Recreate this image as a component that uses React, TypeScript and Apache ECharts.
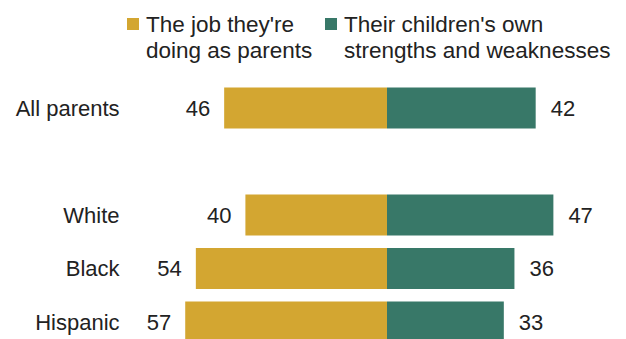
import React, { useEffect, useRef } from "react";
import * as echarts from "echarts";

const categories = ["All parents", "", "White", "Black", "Hispanic"];
const jobAsParents = [46, null, 40, 54, 57];
const childStrengths = [42, null, 47, 36, 33];
const legendLines = [
  ["The job they're", "doing as parents"],
  ["Their children's own", "strengths and weaknesses"],
];
const colors = ["#D3A631", "#387868"];

const FONT = "'Liberation Sans', Arial, sans-serif";

export default function App() {
  const ref = useRef<HTMLDivElement>(null);
  useEffect(() => {
    if (!ref.current) return;
    const chart = echarts.init(ref.current, null, { renderer: "svg" });
    const legendX = [127, 325];
    const textX = [146, 344];
    const graphic: any[] = [];
    legendLines.forEach((lines, i) => {
      graphic.push({
        type: "rect",
        shape: { x: legendX[i], y: 18, width: 12, height: 12 },
        style: { fill: colors[i] },
      });
      lines.forEach((line, j) => {
        graphic.push({
          type: "text",
          x: textX[i],
          y: 24 + j * 26.5,
          style: {
            text: line,
            font: `22.5px ${FONT}`,
            fill: "#222",
            textAlign: "left",
            textVerticalAlign: "middle",
          },
        });
      });
    });
    chart.setOption({
      animation: false,
      grid: {
        left: 174.6,
        right: 26.6,
        top: 81.25,
        height: 267.5,
        containLabel: false,
        outerBoundsMode: "none",
      },
      xAxis: {
        type: "value",
        min: -60,
        max: 60,
        show: false,
      },
      yAxis: {
        type: "category",
        data: categories,
        inverse: true,
        axisLine: { show: false },
        axisTick: { show: false },
        splitLine: { show: false },
        axisLabel: {
          margin: 55,
          fontSize: 22,
          fontFamily: FONT,
          color: "#222",
          align: "right",
        },
      },
      graphic,
      series: [
        {
          name: legendLines[0].join(" "),
          type: "bar",
          stack: "total",
          barWidth: 41,
          data: jobAsParents.map((v) => (v == null ? "-" : -v)),
          itemStyle: { color: colors[0] },
          label: {
            show: true,
            position: "left",
            distance: 14,
            fontSize: 22,
            fontFamily: FONT,
            color: "#222",
            formatter: (p: any) => String(Math.abs(p.value)),
          },
        },
        {
          name: legendLines[1].join(" "),
          type: "bar",
          stack: "total",
          barWidth: 41,
          data: childStrengths.map((v) => (v == null ? "-" : v)),
          itemStyle: { color: colors[1] },
          label: {
            show: true,
            position: "right",
            distance: 15,
            fontSize: 22,
            fontFamily: FONT,
            color: "#222",
            formatter: (p: any) => String(p.value),
          },
        },
      ],
    });
    return () => chart.dispose();
  }, []);
  return (
    <div
      ref={ref}
      style={{ position: "fixed", left: 0, top: 0, width: 626, height: 339, background: "#fff" }}
    />
  );
}
